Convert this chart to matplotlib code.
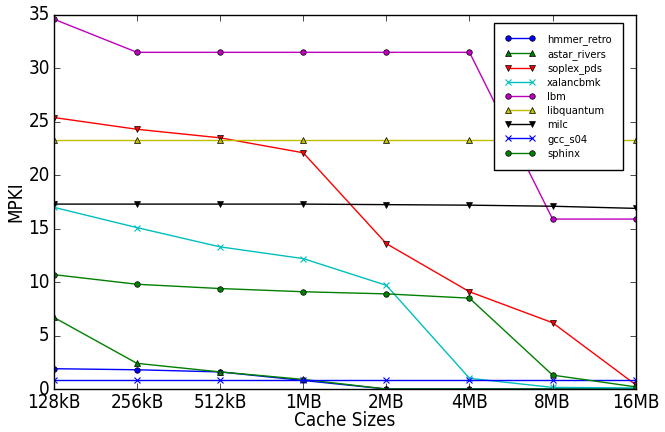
import matplotlib
matplotlib.use('Agg')
import matplotlib.pyplot as plt

plt.style.use('classic')
plt.rcParams['font.family'] = 'DejaVu Sans'
plt.rcParams['font.stretch'] = 'condensed'

cache_sizes = ['128kB', '256kB', '512kB', '1MB', '2MB', '4MB', '8MB', '16MB']

hmmer_retro = [1.9, 1.8, 1.6, 0.8, 0.0, 0.0, 0.0, 0.0]
astar_rivers = [6.7, 2.4, 1.6, 0.9, 0.0, 0.0, 0.0, 0.0]
soplex_pds = [25.4, 24.3, 23.5, 22.1, 13.6, 9.1, 6.2, 0.4]
xalancbmk = [17.0, 15.1, 13.3, 12.2, 9.7, 1.0, 0.15, 0.1]
lbm = [34.6, 31.5, 31.5, 31.5, 31.5, 31.5, 15.9, 15.9]
libquantum = [23.3, 23.3, 23.3, 23.3, 23.3, 23.3, 23.3, 23.3]
milc = [17.3, 17.3, 17.3, 17.3, 17.25, 17.2, 17.1, 16.9]
gcc_s04 = [0.85, 0.85, 0.85, 0.85, 0.85, 0.85, 0.85, 0.85]
sphinx = [10.7, 9.8, 9.4, 9.1, 8.9, 8.5, 1.3, 0.2]

series = [
    ('hmmer_retro', hmmer_retro, 'b', 'o'),
    ('astar_rivers', astar_rivers, 'g', '^'),
    ('soplex_pds', soplex_pds, 'r', 'v'),
    ('xalancbmk', xalancbmk, 'c', 'x'),
    ('lbm', lbm, 'm', 'o'),
    ('libquantum', libquantum, 'y', '^'),
    ('milc', milc, 'k', 'v'),
    ('gcc_s04', gcc_s04, 'b', 'x'),
    ('sphinx', sphinx, 'g', 'o'),
]

fig = plt.figure(figsize=(6.65, 4.32), dpi=100, facecolor='white')
ax = fig.add_axes([0.081, 0.0995, 0.875, 0.866])

x = range(len(cache_sizes))
for name, vals, c, m in series:
    ax.plot(x, vals, color=c, marker=m, markersize=4, linewidth=1,
            markeredgewidth=0.8 if m == 'x' else 0.5, label=name)

ax.set_xlim(0, len(cache_sizes) - 1)
ax.set_ylim(0, 35)
ax.set_xticks(list(x))
ax.set_xticklabels(cache_sizes)
ax.tick_params(labelsize=13.5, pad=3)
ax.set_xlabel('Cache Sizes', fontsize=13.5, labelpad=-1)
ax.set_ylabel('MPKI', fontsize=13.5, labelpad=2)

ax.legend(loc='upper right', bbox_to_anchor=(0.978, 0.979), borderaxespad=0,
          fontsize=8, numpoints=2, handlelength=2.7, handletextpad=1.1,
          labelspacing=0.35, borderpad=1.0)

fig.savefig('out.png', dpi=100, facecolor='white')
